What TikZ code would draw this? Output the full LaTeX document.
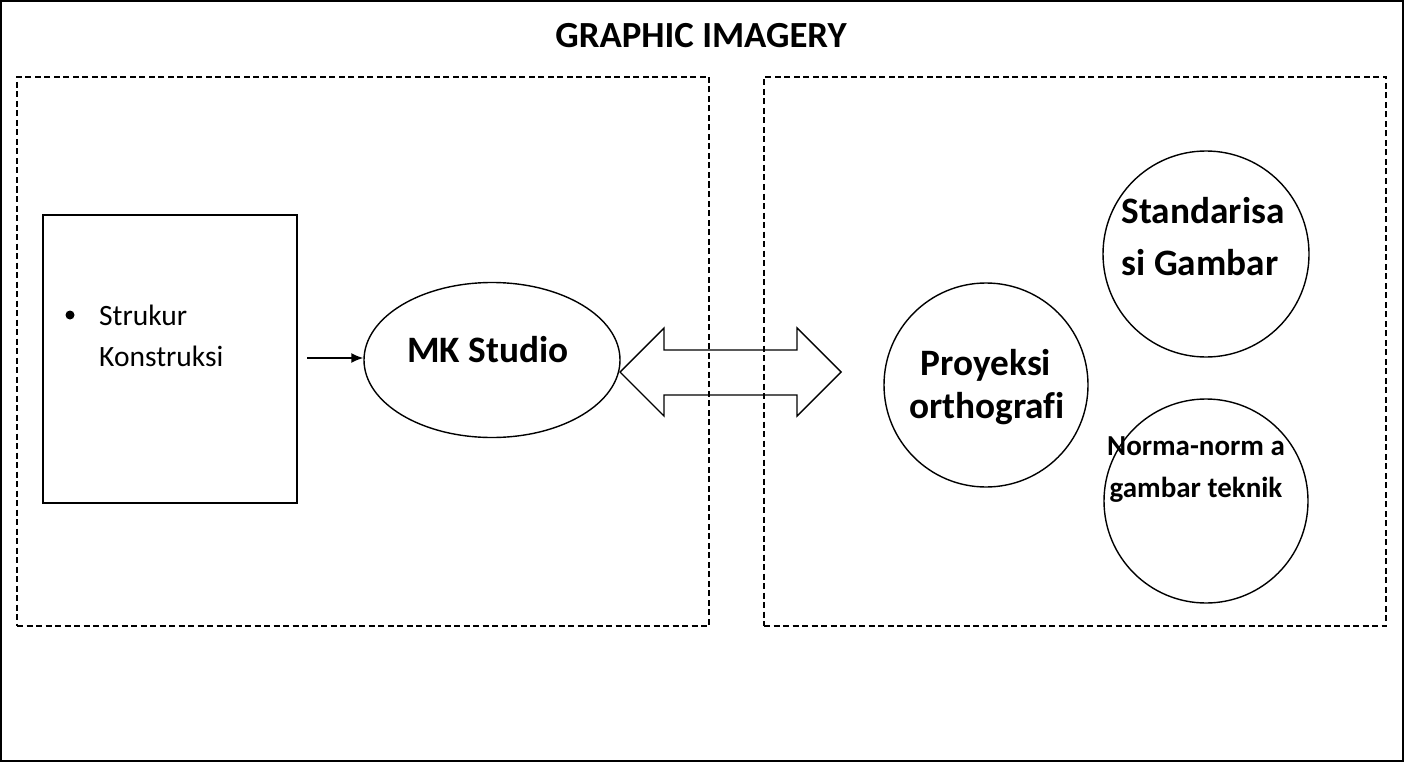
\documentclass[tikz,border=0pt]{standalone}
\usepackage{fontspec}
\setmainfont[Ligatures=NoCommon]{Carlito}
\usetikzlibrary{shapes.geometric,arrows.meta}
\tikzset{
  frame/.style={draw, line width=2pt},
  dbox/.style={draw, line width=1.6pt, dash pattern=on 6pt off 3.5pt, rectangle, inner sep=0pt},
  outl/.style={draw, line width=1.4pt, inner sep=0pt},
  bigtxt/.style={font=\fontsize{37.3}{43}\selectfont\bfseries, inner sep=0pt, anchor=base},
  midtxt/.style={font=\fontsize{29}{42}\selectfont\bfseries, inner sep=0pt, anchor=base},
  smalltxt/.style={font=\fontsize{29.5}{41}\selectfont, inner sep=0pt, anchor=base west},
  titletxt/.style={font=\fontsize{36.8}{42}\selectfont\bfseries, inner sep=0pt, anchor=base}
}
\begin{document}
\begin{tikzpicture}[x=1pt,y=-1pt]
\useasboundingbox (0,0) rectangle (1404,762);
\draw[frame] (1,1) rectangle (1403,761);
\node[titletxt] (title) at (701,48) {GRAPHIC IMAGERY};
% dashed containers
\node[dbox, minimum width=692pt, minimum height=549pt] (left) at (363,351.5) {};
\node[dbox, minimum width=622pt, minimum height=549pt] (right) at (1075,351.5) {};
% rectangle with bullet text
\node[outl, rectangle, minimum width=254pt, minimum height=288pt] (box) at (170,359) {};
\node[circle, fill=black, inner sep=0pt, minimum size=9pt] (bullet) at (70,315) {};
\node[smalltxt] (s1) at (99,325) {Strukur};
\node[smalltxt] (s2) at (99,366) {Konstruksi};
% MK Studio ellipse
\node[outl, ellipse, minimum width=256pt, minimum height=155pt] (mk) at (492,360) {};
\node[bigtxt] (mkt) at (488,362) {MK Studio};
\coordinate (a0) at (307,358);
\draw[line width=1.6pt, -{Latex[length=12pt,width=10pt]}] (a0) -- (mk.west |- a0);
% double arrow
\coordinate (dl) at (620,372);
\coordinate (dr) at (841,372);
\draw[line width=1.4pt, line join=miter]
  (dl) -- (664,328) -- (664,350) -- (797,350) -- (797,328) -- (dr)
  -- (797,416) -- (797,395) -- (664,395) -- (664,416) -- cycle;
% circles
\node[outl, circle, minimum size=204pt] (pr) at (986,385) {};
\node[bigtxt] (pr1) at (986,375) {Proyeksi};
\node[bigtxt] (pr2) at (987,418) {orthografi};
\node[outl, circle, minimum size=206pt] (st) at (1206,254) {};
\node[bigtxt] (st1) at (1203,223) {Standarisa};
\node[bigtxt] (st2) at (1200,275) {si Gambar};
\node[outl, circle, minimum size=204pt] (no) at (1206,501) {};
\node[midtxt] (no1) at (1196,455) {Norma-norm a};
\node[midtxt] (no2) at (1196,497) {gambar teknik};
\end{tikzpicture}
\end{document}
